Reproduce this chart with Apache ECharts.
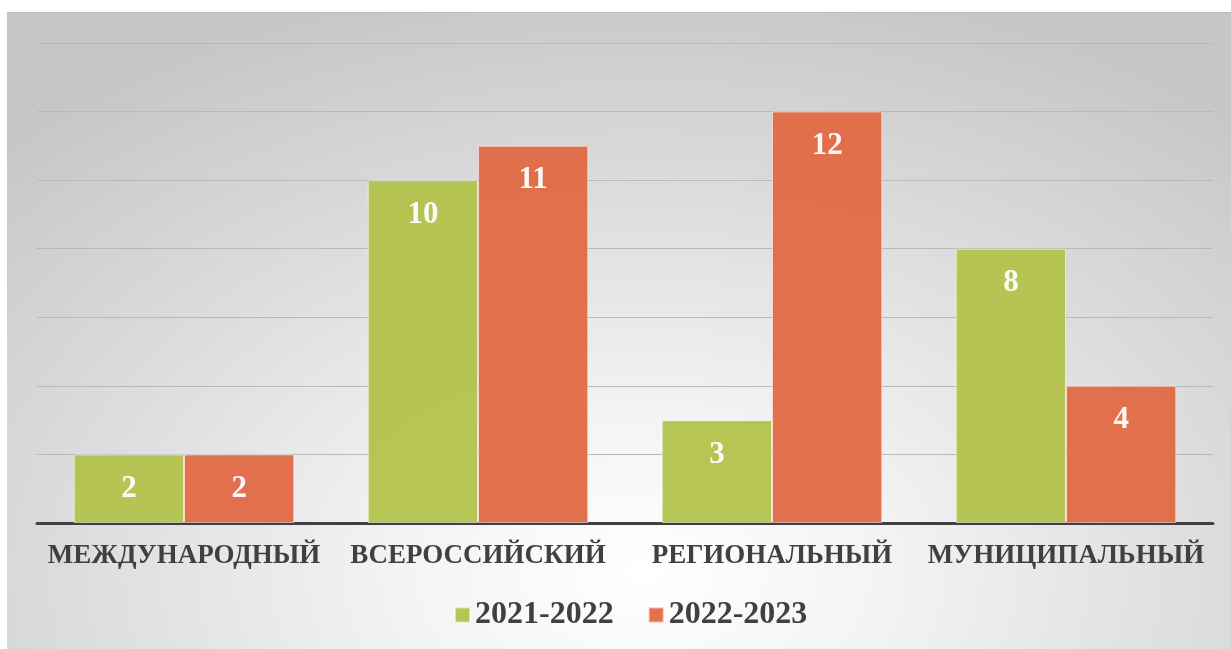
<!DOCTYPE html>
<html>
<head>
<meta charset="utf-8">
<script src="https://cdn.jsdelivr.net/npm/echarts@6/dist/echarts.min.js"></script>
<style>
  html, body { margin: 0; padding: 0; background: #fff; }
  #wrap {
    position: absolute; left: 7px; top: 12px; width: 1224px; height: 637px;
    background: radial-gradient(ellipse 75% 95% at 52% 88%, #ffffff 0%, #f4f4f4 25%, #dedede 60%, #c6c6c6 100%);
    border-top: 1px solid #bdbdbd;
  }
  #chart { width: 1224px; height: 636px; }
</style>
</head>
<body>
<div id="wrap"><div id="chart"></div></div>
<script>
const categories = ['МЕЖДУНАРОДНЫЙ', 'ВСЕРОССИЙСКИЙ', 'РЕГИОНАЛЬНЫЙ', 'МУНИЦИПАЛЬНЫЙ']
const seriesNames = ['2021-2022', '2022-2023']
const values2021 = [2, 10, 3, 8]
const values2022 = [2, 11, 12, 4]
const colors = ['#b2c24a', '#e26944']

const font = '"Liberation Serif", "Times New Roman", serif'

const labelStyle = {
  show: true,
  position: 'insideTop',
  distance: 19,
  color: '#ffffff',
  fontFamily: font,
  fontWeight: 'bold',
  fontSize: 31
}

const option = {
  animation: false,
  backgroundColor: 'transparent',
  grid: { left: 30, right: 18, top: 30, bottom: 126 },
  legend: {
    data: seriesNames,
    left: 442,
    top: 581,
    icon: 'rect',
    itemWidth: 15,
    itemHeight: 15,
    itemGap: 34,
    textStyle: { fontFamily: font, fontWeight: 'bold', fontSize: 32, color: '#404040' }
  },
  xAxis: {
    type: 'category',
    data: categories,
    axisLine: { lineStyle: { color: '#404040', width: 3 } },
    axisTick: { show: false },
    axisLabel: { interval: 0, margin: 20, fontFamily: font, fontWeight: 'bold', fontSize: 27, color: '#404040' }
  },
  yAxis: {
    type: 'value',
    min: 0,
    max: 14,
    interval: 2,
    axisLine: { show: false },
    axisTick: { show: false },
    axisLabel: { show: false },
    splitLine: { lineStyle: { color: '#b9b9b9', width: 1 } }
  },
  series: [
    {
      name: seriesNames[0],
      type: 'bar',
      data: values2021,
      barGap: '0%',
      barCategoryGap: '25%',
      itemStyle: { color: colors[0], opacity: 0.95, borderColor: 'rgba(255,255,255,0.55)', borderWidth: 1 },
      label: labelStyle
    },
    {
      name: seriesNames[1],
      type: 'bar',
      data: values2022,
      itemStyle: { color: colors[1], opacity: 0.95, borderColor: 'rgba(255,255,255,0.55)', borderWidth: 1 },
      label: labelStyle
    }
  ]
}

const chart = echarts.init(document.getElementById('chart'))
chart.setOption(option)
</script>
</body>
</html>
